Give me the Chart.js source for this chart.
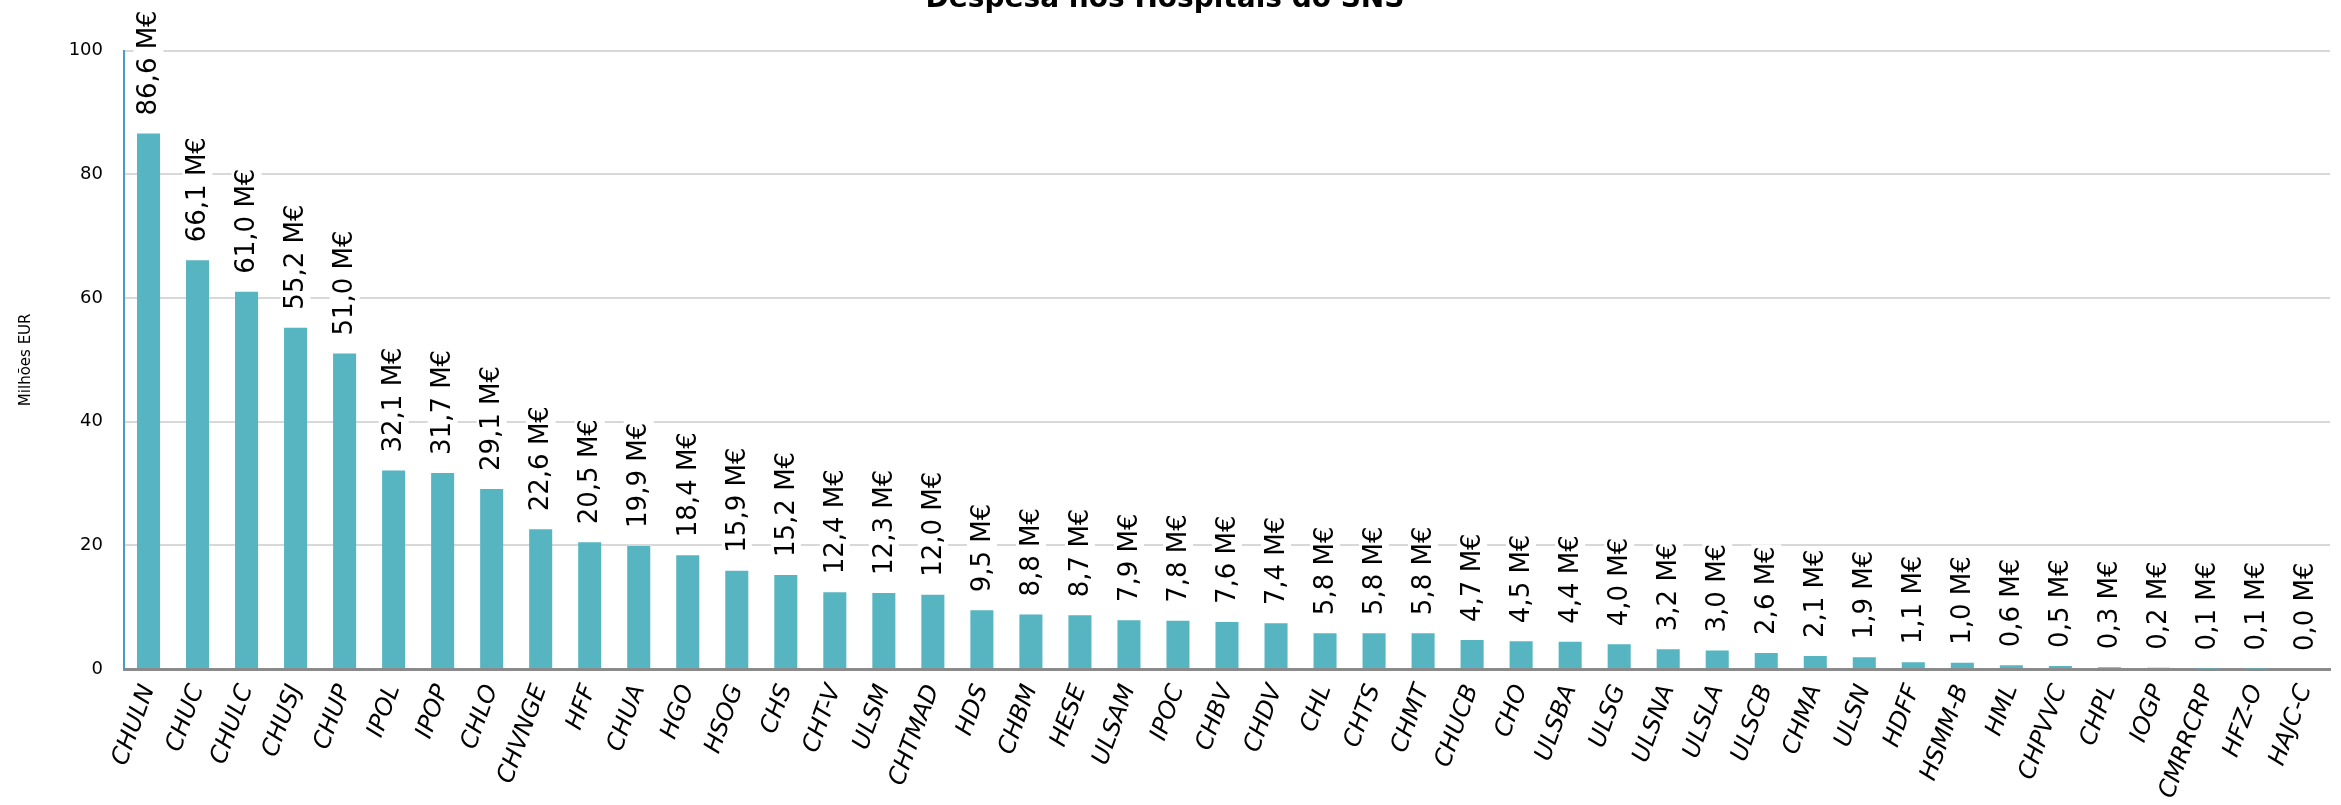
<!DOCTYPE html>
<html>
<head>
<meta charset="utf-8">
<script src="https://cdn.jsdelivr.net/npm/chart.js@4/dist/chart.umd.min.js"></script>
<style>
  body { margin:0; background:#fff; }
  #wrap { width:2341px; height:805px; }
</style>
</head>
<body>
<div id="wrap"><canvas id="despesaChart" width="2341" height="805"></canvas></div>
<script>
// hospitals, sorted by spend
const hospitals = [
  "CHULN","CHUC","CHULC","CHUSJ","CHUP","IPOL","IPOP","CHLO","CHVNGE","HFF",
  "CHUA","HGO","HSOG","CHS","CHT-V","ULSM","CHTMAD","HDS","CHBM","HESE",
  "ULSAM","IPOC","CHBV","CHDV","CHL","CHTS","CHMT","CHUCB","CHO","ULSBA",
  "ULSG","ULSNA","ULSLA","ULSCB","CHMA","ULSN","HDFF","HSMM-B","HML","CHPVVC",
  "CHPL","IOGP","CMRRCRP","HFZ-O","HAJC-C"
];

// milhões EUR
const despesa = [
  86.6, 66.1, 61.0, 55.2, 51.0, 32.1, 31.7, 29.1, 22.6, 20.5,
  19.9, 18.4, 15.9, 15.2, 12.4, 12.3, 12.0, 9.5, 8.8, 8.7,
  7.9, 7.8, 7.6, 7.4, 5.8, 5.8, 5.8, 4.7, 4.5, 4.4,
  4.0, 3.2, 3.0, 2.6, 2.1, 1.9, 1.1, 1.0, 0.6, 0.5,
  0.3, 0.2, 0.1, 0.1, 0.0
];

const yTicks = [0, 20, 40, 60, 80, 100];

const FONT = "'DejaVu Sans', sans-serif";
const fmt = v => v.toFixed(1).replace(".", ",") + " M€";

// value labels, rotated, on a white box (hides grid lines behind)
const barLabels = {
  id: "barLabels",
  afterDatasetsDraw(chart){
    const ctx = chart.ctx;
    const meta = chart.getDatasetMeta(0);
    ctx.save();
    ctx.font = "26px " + FONT;
    meta.data.forEach((bar, i) => {
      const txt = fmt(despesa[i]);
      const w = ctx.measureText(txt).width;
      ctx.save();
      ctx.translate(bar.x, bar.y - 18);
      ctx.rotate(-Math.PI / 2);
      ctx.fillStyle = "#fff";
      ctx.fillRect(-2, -15, w + 4, 30);
      ctx.fillStyle = "#000";
      ctx.textAlign = "left";
      ctx.textBaseline = "middle";
      ctx.fillText(txt, 0, 1);
      ctx.restore();
    });
    ctx.restore();
  }
};

new Chart(document.getElementById("despesaChart"), {
  type: "bar",
  data: {
    labels: hospitals,
    datasets: [{
      data: despesa,
      backgroundColor: "#56b5c0",
      barPercentage: 0.47,
      categoryPercentage: 1
    }]
  },
  plugins: [barLabels],
  options: {
    responsive: false,
    animation: false,
    devicePixelRatio: 1,
    layout: { padding: { left: 0, right: 11, top: 0, bottom: 0 } },
    plugins: {
      legend: { display: false },
      tooltip: { enabled: false },
      title: {
        display: true,
        text: "Despesa nos Hospitais do SNS",
        color: "#000",
        font: { family: FONT, size: 28, weight: "bold" },
        padding: { top: -17, bottom: 34 }
      }
    },
    scales: {
      x: {
        afterFit: s => { s.height = 136; },
        grid: { display: false },
        border: { color: "#8a8a8a", width: 3 },
        ticks: {
          autoSkip: false,
          maxRotation: 70,
          minRotation: 70,
          padding: 4,
          color: "#000",
          font: { family: FONT, size: 24, style: "italic" }
        }
      },
      y: {
        min: 0,
        max: 100,
        afterFit: s => { s.width = 124; },
        afterBuildTicks: s => { s.ticks = yTicks.map(v => ({ value: v })); },
        grid: { color: "#d8d8d8", lineWidth: 2, drawTicks: false },
        border: { color: "#4a9cc6", width: 2 },
        ticks: {
          padding: 21,
          color: "#000",
          font: { family: FONT, size: 18 }
        },
        title: {
          display: true,
          text: "Milhões EUR",
          color: "#000",
          font: { family: FONT, size: 15 },
          padding: { top: 17, bottom: 0 }
        }
      }
    }
  }
});
</script>
</body>
</html>
